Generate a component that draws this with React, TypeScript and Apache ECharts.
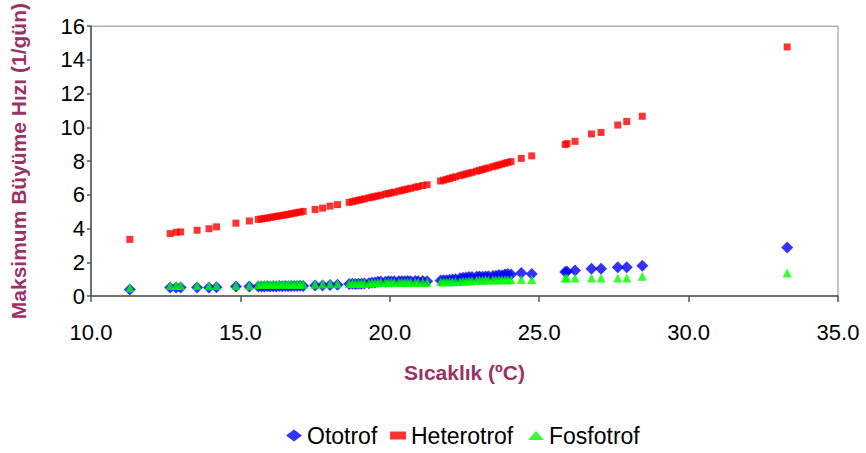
import React, { useEffect, useRef } from "react";
import * as echarts from "echarts";

// Temperatures (°C) shared by the three series
const temps: number[] = [
  11.3, 12.65, 12.85, 13.0, 13.55, 13.95, 14.2, 14.85, 15.3,
  15.6, 15.7, 15.8, 15.9, 16.0, 16.1, 16.2, 16.3, 16.4, 16.5, 16.6, 16.7, 16.8, 16.9, 17.0, 17.1,
  17.5, 17.75, 18.0, 18.25,
  18.64, 18.75, 18.85, 18.95, 19.05, 19.15, 19.3, 19.4, 19.5, 19.6, 19.7, 19.85, 19.95, 20.05, 20.15, 20.3, 20.4, 20.5, 20.6, 20.7, 20.85, 20.95, 21.1, 21.25,
  21.7, 21.8, 21.9, 22.0, 22.1, 22.2, 22.35, 22.45, 22.55, 22.65, 22.75, 22.9, 23.0, 23.1, 23.2, 23.3, 23.45, 23.55, 23.65, 23.75, 23.85, 23.95, 24.06,
  24.4, 24.75,
  25.87, 25.93, 26.2, 26.75, 27.07, 27.63, 27.93, 28.45,
  33.3,
];

// Heterotrof (red squares)
const heterotrof: number[] = [
  3.36, 3.70, 3.78, 3.80, 3.90, 3.99, 4.10, 4.32, 4.45,
  4.54, 4.57, 4.60, 4.62, 4.66, 4.69, 4.72, 4.75, 4.78, 4.81, 4.84, 4.88, 4.91, 4.95, 4.98, 5.02,
  5.13, 5.21, 5.33, 5.42,
  5.55, 5.60, 5.64, 5.68, 5.72, 5.76, 5.82, 5.86, 5.90, 5.94, 5.98, 6.04, 6.08, 6.12, 6.16, 6.22, 6.26, 6.31, 6.35, 6.39, 6.45, 6.49, 6.55, 6.60,
  6.82, 6.87, 6.92, 6.97, 7.02, 7.07, 7.14, 7.19, 7.24, 7.28, 7.33, 7.40, 7.45, 7.50, 7.55, 7.60, 7.67, 7.72, 7.77, 7.82, 7.87, 7.92, 7.97,
  8.16, 8.31,
  8.98, 9.04, 9.17, 9.61, 9.70, 10.14, 10.35, 10.66,
  14.77,
];

// Ototrof (blue diamonds)
const ototrof: number[] = [
  0.38, 0.50, 0.51, 0.50, 0.51, 0.50, 0.52, 0.57, 0.57,
  0.56, 0.57, 0.56, 0.58, 0.57, 0.58, 0.57, 0.59, 0.58, 0.59, 0.58, 0.60, 0.59, 0.60, 0.61, 0.60,
  0.62, 0.63, 0.65, 0.66,
  0.71, 0.72, 0.71, 0.73, 0.72, 0.74, 0.76, 0.78, 0.80, 0.84, 0.86, 0.85, 0.87, 0.86, 0.88, 0.87, 0.88, 0.87, 0.89, 0.88, 0.89, 0.88, 0.89, 0.87,
  0.92, 0.93, 0.94, 0.96, 0.98, 1.00, 1.05, 1.08, 1.10, 1.12, 1.13, 1.14, 1.15, 1.14, 1.16, 1.17, 1.18, 1.20, 1.24, 1.22, 1.27, 1.30, 1.27,
  1.36, 1.30,
  1.42, 1.45, 1.51, 1.61, 1.61, 1.70, 1.70, 1.80,
  2.87,
];

// Fosfotrof (green triangles)
const fosfotrof: number[] = [
  0.49, 0.62, 0.63, 0.62, 0.62, 0.61, 0.62, 0.62, 0.62,
  0.68, 0.70, 0.69, 0.71, 0.70, 0.71, 0.70, 0.71, 0.70, 0.71, 0.70, 0.71, 0.70, 0.71, 0.70, 0.70,
  0.70, 0.71, 0.72, 0.72,
  0.74, 0.75, 0.74, 0.75, 0.75, 0.76, 0.76, 0.78, 0.79, 0.80, 0.81, 0.81, 0.82, 0.81, 0.82, 0.81, 0.82, 0.81, 0.82, 0.81, 0.82, 0.81, 0.82, 0.81,
  0.84, 0.85, 0.84, 0.85, 0.85, 0.86, 0.86, 0.87, 0.88, 0.90, 0.92, 0.94, 0.95, 0.94, 0.96, 0.95, 0.96, 0.95, 0.97, 0.96, 0.97, 0.96, 0.97,
  0.98, 0.98,
  1.07, 1.07, 1.07, 1.07, 1.07, 1.07, 1.07, 1.17,
  1.36,
];

const seriesNames = ["Ototrof", "Heterotrof", "Fosfotrof"];
const xTitle = "Sıcaklık (ºC)";
const yTitle = "Maksimum Büyüme Hızı (1/gün)";

const FONT = "'Liberation Sans', Arial, sans-serif";
const TITLE_COLOR = "#993366";

export default function App() {
  const ref = useRef<HTMLDivElement>(null);

  useEffect(() => {
    if (!ref.current) return;
    const chart = echarts.init(ref.current, undefined, { renderer: "svg" });
    const pair = (vals: number[]) => temps.map((t, i) => [t, vals[i]]);

    const legendBase = {
      top: 424,
      orient: "horizontal" as const,
      selectedMode: false,
      textStyle: { fontFamily: FONT, fontSize: 23, color: "#000" },
      padding: 0,
    };

    chart.setOption({
      animation: false,
      backgroundColor: "#fff",
      grid: {
        left: 89,
        right: 28,
        top: 16,
        bottom: 157,
        show: true,
        borderColor: "#888",
        borderWidth: 1,
        backgroundColor: "transparent",
      },
      legend: [
        { ...legendBase, left: 286, itemWidth: 16, itemHeight: 12, data: [{ name: seriesNames[0], icon: "diamond" }] },
        { ...legendBase, left: 390, itemWidth: 16, itemHeight: 8, data: [{ name: seriesNames[1], icon: "rect" }] },
        { ...legendBase, left: 528, itemWidth: 16, itemHeight: 9, data: [{ name: seriesNames[2], icon: "triangle" }] },
      ],
      xAxis: {
        type: "value",
        min: 10,
        max: 35,
        interval: 5,
        name: xTitle,
        nameLocation: "middle",
        nameGap: 66,
        nameTextStyle: { fontFamily: FONT, fontSize: 21, fontWeight: "bold", color: TITLE_COLOR },
        axisLine: { show: true, onZero: false, lineStyle: { color: "#555", width: 1.5 } },
        axisTick: { show: true, length: 6, inside: false, lineStyle: { color: "#555", width: 1.5 } },
        axisLabel: {
          fontFamily: FONT,
          fontSize: 22,
          color: "#000",
          margin: 25,
          formatter: (v: number) => v.toFixed(1),
        },
        splitLine: { show: false },
      },
      yAxis: {
        type: "value",
        min: 0,
        max: 16,
        interval: 2,
        name: yTitle,
        nameLocation: "middle",
        nameGap: 62,
        nameRotate: 90,
        nameTextStyle: { fontFamily: FONT, fontSize: 21, fontWeight: "bold", color: TITLE_COLOR },
        axisLine: { show: true, lineStyle: { color: "#555", width: 1.5 } },
        axisTick: { show: true, length: 4, inside: false, lineStyle: { color: "#555", width: 1.5 } },
        axisLabel: { fontFamily: FONT, fontSize: 22, color: "#000", margin: 6 },
        splitLine: { show: false },
      },
      series: [
        {
          name: seriesNames[0],
          type: "scatter",
          symbol: "diamond",
          symbolSize: 12,
          itemStyle: { color: "#0000FF" },
          data: pair(ototrof),
          z: 2,
        },
        {
          name: seriesNames[1],
          type: "scatter",
          symbol: "rect",
          symbolSize: 7,
          itemStyle: { color: "#FF0000" },
          data: pair(heterotrof),
          z: 3,
        },
        {
          name: seriesNames[2],
          type: "scatter",
          symbol: "triangle",
          symbolSize: 9,
          itemStyle: { color: "#00FF00" },
          data: pair(fosfotrof),
          z: 4,
        },
      ],
    });

    return () => chart.dispose();
  }, []);

  return (
    <div
      ref={ref}
      style={{ position: "fixed", left: 0, top: 0, width: 866, height: 453 }}
    />
  );
}
